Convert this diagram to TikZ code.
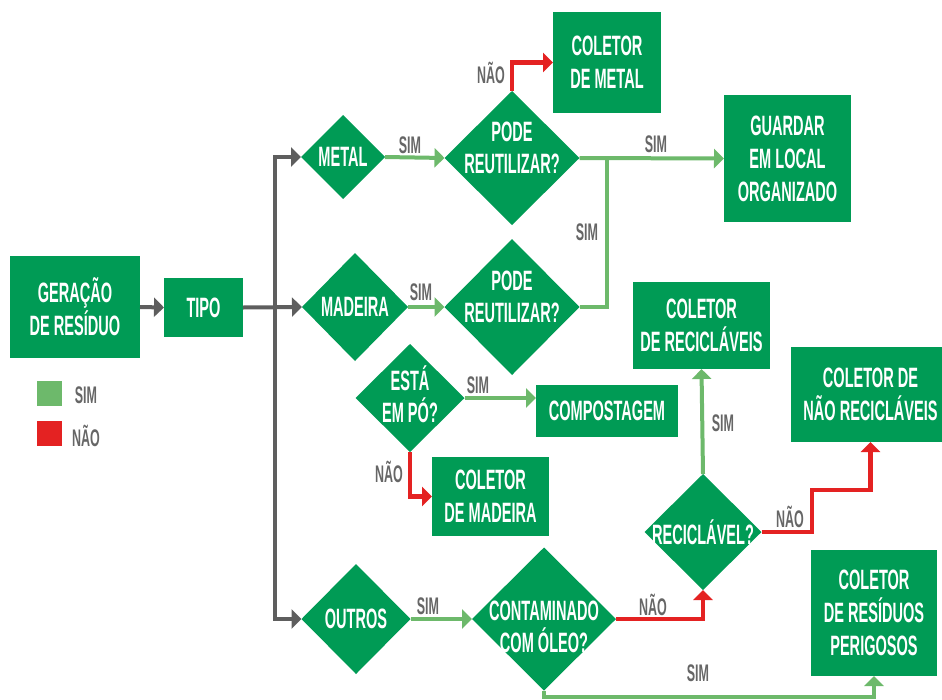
\documentclass[tikz,border=0pt]{standalone}
\usepackage{fontspec}
\newfontfamily\cond{Liberation Sans}[FakeStretch=0.52]
\usetikzlibrary{shapes.geometric,arrows.meta}

\definecolor{boxgreen}{HTML}{009B55}
\definecolor{yesgreen}{HTML}{6DB96B}
\definecolor{nored}{HTML}{E42222}
\definecolor{flowgray}{HTML}{5E5E5E}
\definecolor{labelgray}{HTML}{666666}

\tikzset{
  box/.style={rectangle, fill=boxgreen, text=white, inner sep=0pt, outer sep=0pt,
    align=center, font=\cond\bfseries\fontsize{28}{33}\selectfont},
  dia/.style={diamond, fill=boxgreen, inner sep=0pt, outer sep=0pt},
  dlabel/.style={text=white, align=center, inner sep=0pt,
    font=\cond\bfseries\fontsize{28}{32}\selectfont},
  tag/.style={text=labelgray, inner sep=0pt,
    font=\cond\bfseries\fontsize{24}{26}\selectfont},
  tip/.style={-{Triangle[length=10pt,width=19pt]}},
  grayflow/.style={draw=flowgray, line width=4pt},
  yesflow/.style={draw=yesgreen, line width=4pt},
  noflow/.style={draw=nored, line width=4.5pt},
}

\begin{document}
\begin{tikzpicture}[x=1pt, y=-1pt]
\clip (0,0) rectangle (942,699);
\fill[white] (0,0) rectangle (942,699);

% boxes
\node[box, minimum width=130pt, minimum height=102pt] (ger) at (75,307) {GERAÇÃO\\DE RESÍDUO};
\node[box, minimum width=79pt, minimum height=59pt] (tipo) at (203.5,307.5) {TIPO};
\node[box, minimum width=108pt, minimum height=101pt] (cmetal) at (607,62.5) {COLETOR\\DE METAL};
\node[box, minimum width=127pt, minimum height=127pt] (guardar) at (787.5,158.5) {GUARDAR\\EM LOCAL\\ORGANIZADO};
\node[box, minimum width=142pt, minimum height=52pt] (compost) at (607,411) {COMPOSTAGEM};
\node[box, minimum width=117pt, minimum height=79pt] (cmadeira) at (490.5,496.5) {COLETOR\\DE MADEIRA};
\node[box, minimum width=137pt, minimum height=87pt] (crecic) at (701.5,325.5) {COLETOR\\DE RECICLÁVEIS};
\node[box, minimum width=159pt, minimum height=95pt] (cnaorec) at (870.5,394.5) {COLETOR DE\\NÃO RECICLÁVEIS};
\node[box, minimum width=126pt, minimum height=126pt] (cperig) at (874,613) {COLETOR\\DE RESÍDUOS\\PERIGOSOS};

% decisions
\node[dia, minimum width=84pt, minimum height=84pt, label={[dlabel]center:METAL}] (metal) at (343,157) {};
\node[dia, minimum width=135pt, minimum height=134pt, label={[dlabel, yshift=10pt]center:{PODE\\REUTILIZAR?}}] (pode1) at (512,158) {};
\node[dia, minimum width=106pt, minimum height=108pt, label={[dlabel]center:MADEIRA}] (madeira) at (355,307) {};
\node[dia, minimum width=135pt, minimum height=136pt, label={[dlabel, yshift=10pt]center:{PODE\\REUTILIZAR?}}] (pode2) at (512,307) {};
\node[dia, minimum width=109pt, minimum height=108pt, label={[dlabel, yshift=4pt]center:{ESTÁ\\EM PÓ?}}] (esta) at (410,398) {};
\node[dia, minimum width=117pt, minimum height=116pt, label={[dlabel]center:RECICLÁVEL?}] (recic) at (703,532) {};
\node[dia, minimum width=109pt, minimum height=110pt, label={[dlabel]center:OUTROS}] (outros) at (356,619) {};
\node[dia, minimum width=144pt, minimum height=143pt, label={[dlabel, yshift=-8pt]center:{CONTAMINADO\\COM ÓLEO?}}] (contam) at (544,619) {};

% junction points
\coordinate (bus) at (275,307);
\coordinate (reuse) at (607,158);
\coordinate (oilbase) at (544,697);
\coordinate (step) at (812,490);

% gray flow from type
\draw[grayflow, tip] (ger.east) -- (tipo.west);
\draw[grayflow, tip] (tipo.east) -- (madeira.west);
\draw[grayflow, tip] (bus) |- (metal.west);
\draw[grayflow, tip] (bus) |- (outros.west);

% yes branches
\draw[yesflow, tip] (metal.east) -- (pode1.west);
\draw[yesflow, tip] (pode1.east) -- (guardar.west);
\draw[yesflow] (pode2.east) -| (reuse);
\draw[yesflow, tip] (madeira.east) -- (pode2.west);
\draw[yesflow, tip] (esta.east) -- (esta.east -| compost.west);
\draw[yesflow, tip] (outros.east) -- (contam.west);
\draw[yesflow, tip] (recic.north) -- (crecic.south);
\draw[yesflow, tip] (contam.south) -- (oilbase) -| (cperig.south);

% no branches
\draw[noflow, tip] (pode1.north) |- (cmetal.west);
\draw[noflow, tip] (esta.south) |- (cmadeira.west);
\draw[noflow, tip] (contam.east) -| (recic.south);
\draw[noflow, tip] (recic.east) -| (step) -| (cnaorec.south);

% branch tags
\node[tag] (t1) at (491,73) {NÃO};
\node[tag] (t2) at (410,145) {SIM};
\node[tag] (t3) at (656,144) {SIM};
\node[tag] (t4) at (587,232) {SIM};
\node[tag] (t5) at (421,292) {SIM};
\node[tag] (t6) at (478,385) {SIM};
\node[tag] (t7) at (389,472) {NÃO};
\node[tag] (t8) at (723,423) {SIM};
\node[tag] (t9) at (790,517) {NÃO};
\node[tag] (t10) at (428,606) {SIM};
\node[tag] (t11) at (653,605) {NÃO};
\node[tag] (t12) at (698,673) {SIM};

% legend
\fill[yesgreen] (37,381) rectangle (62,406);
\fill[nored] (37,421) rectangle (62,446);
\node[tag] (lsim) at (86,395) {SIM};
\node[tag] (lnao) at (86,436) {NÃO};
\end{tikzpicture}
\end{document}
